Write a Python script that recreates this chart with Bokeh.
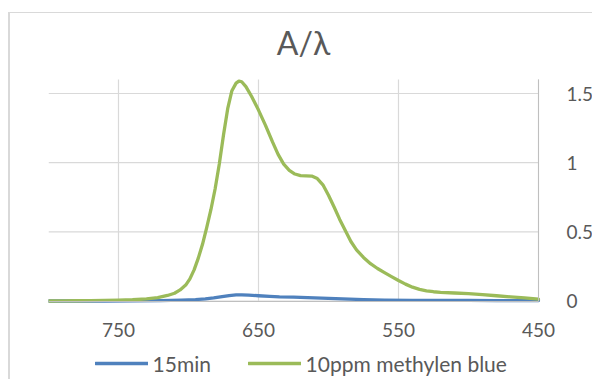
from bokeh.plotting import figure
from bokeh.models import (Range1d, FixedTicker, CustomJSTickFormatter, Legend,
                          LegendItem, Label)
from bokeh.embed import file_html
from bokeh.resources import INLINE

# ---- data ----
title_text = "A/λ"
series_names = ["15min", "10ppm methylen blue"]
x_ticks = [750, 650, 550, 450]
y_ticks = [0, 0.5, 1, 1.5]

wl_mb = [800, 790, 780, 770, 760, 750, 740, 730, 722, 715, 710, 706, 702, 699,
         696, 693, 690, 687, 684, 681, 678, 675, 672, 669, 666, 664, 662, 659,
         655, 650, 645, 640, 636, 632, 628, 624, 620, 616, 612, 608, 604, 600,
         596, 592, 588, 584, 580, 575, 570, 565, 560, 555, 550, 545, 540, 535,
         530, 525, 520, 510, 500, 490, 480, 470, 460, 450]
abs_mb = [0.000, 0.001, 0.002, 0.003, 0.004, 0.006, 0.009, 0.015, 0.025, 0.040,
          0.056, 0.080, 0.115, 0.160, 0.225, 0.310, 0.410, 0.530, 0.660, 0.810,
          0.990, 1.200, 1.390, 1.520, 1.575, 1.590, 1.585, 1.550, 1.480, 1.380,
          1.270, 1.150, 1.060, 0.990, 0.945, 0.918, 0.906, 0.905, 0.903, 0.885,
          0.840, 0.765, 0.680, 0.590, 0.510, 0.430, 0.370, 0.315, 0.270, 0.235,
          0.205, 0.176, 0.148, 0.122, 0.100, 0.084, 0.074, 0.067, 0.062, 0.058,
          0.053, 0.046, 0.038, 0.030, 0.022, 0.013]

wl_15 = [800, 760, 740, 720, 705, 695, 688, 682, 676, 671, 666, 662, 657, 650,
         642, 635, 625, 615, 605, 595, 585, 575, 560, 540, 520, 500, 480, 450]
abs_15 = [0.000, 0.000, 0.001, 0.003, 0.006, 0.010, 0.015, 0.022, 0.031, 0.039,
          0.044, 0.045, 0.043, 0.038, 0.033, 0.030, 0.028, 0.025, 0.021, 0.017,
          0.013, 0.010, 0.007, 0.005, 0.004, 0.004, 0.003, 0.003]

# extent of the plot area in data units
X_MIN, X_MAX = 450, 800
Y_MIN, Y_MAX = 0, 1.601

TEXT = "#595959"
GRID = "#D9D9D9"
AXIS = "#BFBFBF"
FONT = "Lato"

# frame covers the whole chart area so that title, labels and legend live in it
p = figure(width=584, height=367, output_backend="svg", toolbar_location=None,
           x_range=Range1d(800, 410), y_range=Range1d(-0.5747, 2.0784),
           y_axis_location="right",
           min_border_left=38, min_border_right=0,
           min_border_top=0, min_border_bottom=0)
p.styles = {"margin-left": "8px", "margin-top": "12px",
            "border-top": "1px solid #D9D9D9", "border-left": "2px solid #D9D9D9"}
p.title.visible = False
p.outline_line_color = None
p.background_fill_color = "white"
p.border_fill_color = "white"

# x axis drawn at y = 0
xa = p.xaxis[0]
xa.fixed_location = Y_MIN
xa.bounds = (X_MIN, X_MAX)
xa.ticker = FixedTicker(ticks=x_ticks)
xa.axis_line_color = AXIS
xa.major_tick_line_color = None
xa.minor_tick_line_color = None
xa.major_label_text_font = FONT
xa.major_label_text_font_size = "19px"
xa.major_label_text_color = TEXT
xa.major_label_standoff = 16

# value axis drawn at x = 450 (right edge of the plot area)
ya = p.yaxis[0]
ya.fixed_location = X_MIN
ya.bounds = (Y_MIN, Y_MAX)
ya.ticker = FixedTicker(ticks=y_ticks)
ya.formatter = CustomJSTickFormatter(code="return tick.toString()")
ya.axis_line_color = AXIS
ya.major_tick_line_color = None
ya.minor_tick_line_color = None
ya.major_label_text_font = FONT
ya.major_label_text_font_size = "19px"
ya.major_label_text_color = TEXT
ya.major_label_standoff = 22

p.xgrid.visible = False
p.ygrid.visible = False

# gridlines limited to the plot area
n_x = len(x_ticks)
p.segment(x0=x_ticks, y0=[Y_MIN] * n_x, x1=x_ticks, y1=[Y_MAX] * n_x,
          line_color=GRID, line_width=1.2, level="underlay")
n_y = len(y_ticks)
p.segment(x0=[X_MAX] * n_y, y0=y_ticks, x1=[X_MIN] * n_y, y1=y_ticks,
          line_color=GRID, line_width=1.2, level="underlay")

r_blue = p.line(wl_15, abs_15, line_color="#4F81BD", line_width=3.3,
                line_join="round", line_cap="round")
r_green = p.line(wl_mb, abs_mb, line_color="#9BBB59", line_width=3.3,
                 line_join="round", line_cap="round")

legend = Legend(items=[LegendItem(label=series_names[0], renderers=[r_blue]),
                       LegendItem(label=series_names[1], renderers=[r_green])],
                orientation="horizontal", location=(46.6, 4.5),
                glyph_width=53, glyph_height=20, label_height=20,
                label_standoff=5, label_width=90, spacing=5,
                padding=0, margin=0, border_line_alpha=0, background_fill_alpha=0,
                label_text_font=FONT, label_text_font_size="21px",
                label_text_color=TEXT)
p.add_layout(legend)

title = Label(x=255, y=338, x_units="screen", y_units="screen", text=title_text,
              text_align="center", text_baseline="alphabetic",
              text_font=FONT, text_font_size="32px", text_color=TEXT)
p.add_layout(title)

open("out.html", "w").write(file_html(p, INLINE))
